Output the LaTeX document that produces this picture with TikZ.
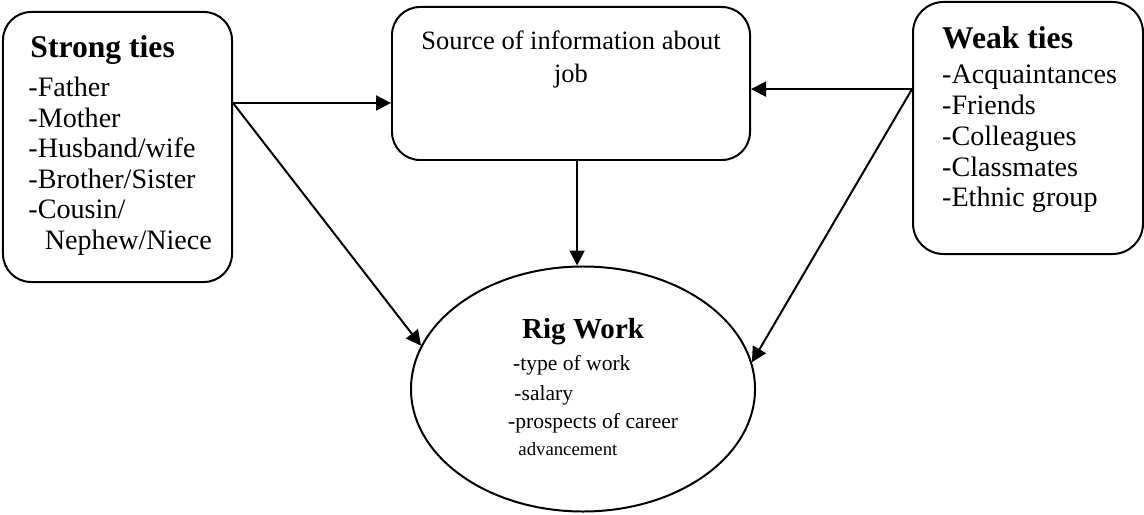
\documentclass[tikz,border=0pt]{standalone}
\usepackage{fontspec}
\setmainfont{Liberation Serif}
\usetikzlibrary{arrows.meta,shapes.geometric}

\tikzset{
  tiebox/.style={draw, line width=0.85pt, rounded corners=12pt, inner sep=0pt},
  conn/.style={line width=0.85pt, -{Triangle[length=6.4pt,width=6.4pt]}},
  head/.style={font=\fontsize{13.5}{16}\selectfont\bfseries, inner sep=0pt, anchor=base west},
  item/.style={font=\fontsize{12}{14}\selectfont, inner sep=0pt, anchor=base west},
  rigitem/.style={font=\fontsize{9.2}{11}\selectfont, inner sep=0pt, anchor=base west}
}

\begin{document}
\begin{tikzpicture}[x=0.015cm, y=-0.015cm]
\useasboundingbox (0,0) rectangle (1144,514);

% boxes
\node[tiebox, minimum width=3.435cm, minimum height=4.05cm] (strong) at (117.5,147) {};
\node[tiebox, minimum width=5.37cm, minimum height=2.295cm] (source) at (571,83.5) {};
\node[tiebox, rounded corners=13pt, minimum width=3.45cm, minimum height=3.78cm] (weak) at (1028,128) {};
\node[draw, ellipse, line width=0.85pt, inner sep=0pt, minimum width=5.16cm, minimum height=3.675cm] (rig) at (583,389) {};

% strong ties
\node[head] (strongt) at (30,58) {Strong ties};
\foreach \t [count=\i] in {{-Father},{-Mother},{-Husband/wife},{-Brother/Sister},{-Cousin/},{\hspace*{7pt}Nephew/Niece}}
  \node[item] (s\i) at (28,{96.7+30.5*(\i-1)}) {\t};

% source
\node[font=\fontsize{11.3}{14}\selectfont, inner sep=0pt, anchor=base] (src1) at (571,50) {Source of information about};
\node[font=\fontsize{11.3}{14}\selectfont, inner sep=0pt, anchor=base] (src2) at (571,83) {job};

% weak ties
\node[head] (weakt) at (941.7,49) {Weak ties};
\foreach \t [count=\i] in {{-Acquaintances},{-Friends},{-Colleagues},{-Classmates},{-Ethnic group}}
  \node[item] (w\i) at (941.7,{84+30.7*(\i-1)}) {\t};

% rig work
\node[head, font=\fontsize{12.4}{15}\selectfont\bfseries] (rigt) at (521.7,338.3) {Rig Work};
\node[rigitem] (r1) at (512.7,370.7) {-type of work};
\node[rigitem] (r2) at (514,400.7) {-salary};
\node[rigitem] (r3) at (507.7,428.3) {-prospects of career};
\node[rigitem, font=\fontsize{8}{10}\selectfont] (r4) at (518,455) {advancement};

% connectors
\coordinate (sj) at ([yshift=18.8pt]strong.east);
\coordinate (wj) at ([yshift=16.6pt]weak.west);
\draw[conn] (sj) -- (sj -| source.west);
\draw[conn] (sj) -- (rig.165);
\draw[conn] (wj) -- (wj -| source.east);
\draw[conn] (wj) -- (rig.9);
\draw[conn] ([xshift=2.6pt]source.south) -- ([xshift=2.6pt]source.south |- rig.north);

\end{tikzpicture}
\end{document}
